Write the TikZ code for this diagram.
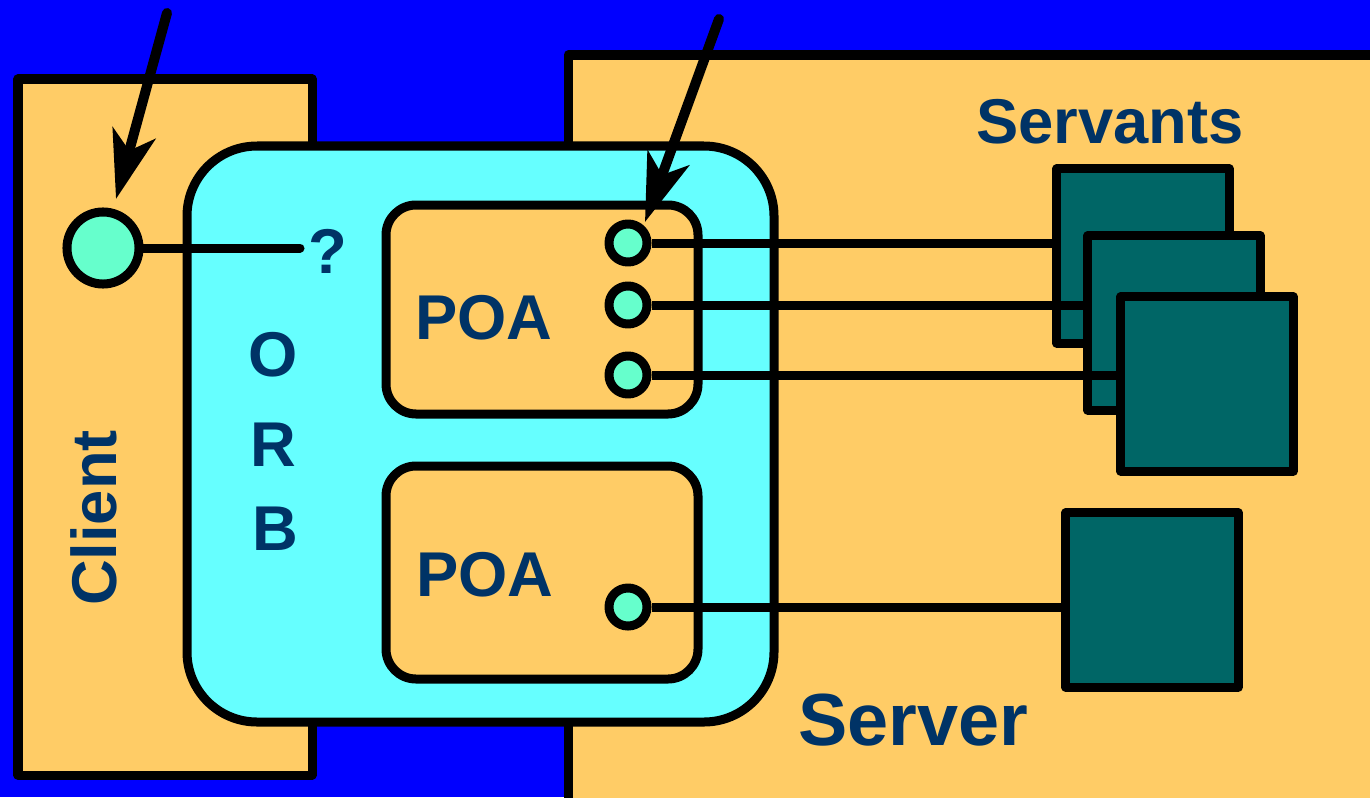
\documentclass[tikz,border=0pt]{standalone}
\usepackage{fontspec}
\setmainfont{Liberation Sans}
\usetikzlibrary{arrows.meta}
\definecolor{bgblue}{HTML}{0000FF}
\definecolor{partorange}{HTML}{FFCC66}
\definecolor{orbcyan}{HTML}{66FFFF}
\definecolor{refgreen}{HTML}{66FFCC}
\definecolor{servteal}{HTML}{006666}
\definecolor{labelnavy}{HTML}{003366}
\begin{document}
\begin{tikzpicture}[x=0.01cm,y=-0.01cm,line width=0.09cm,line join=round,
  >={Stealth[length=0.68cm,width=0.44cm,inset=0.18cm]},
  part/.style={draw,fill=partorange},
  ref/.style={draw,circle,fill=refgreen,inner sep=0pt,minimum size=0.38cm},
  servant/.style={draw,fill=servteal,inner sep=0pt,minimum width=1.72cm,minimum height=1.74cm},
  lbl/.style={text=labelnavy,inner sep=0pt,font=\bfseries\fontsize{18pt}{20pt}\selectfont},
  ptr/.style={->,line cap=round,line width=0.1cm}]
  \useasboundingbox[fill=bgblue](0,0)rectangle(1370,797);
  % client and server processes
  \draw[part](18,79)rectangle(312,775);
  \draw[part](568,55)rectangle(1400,830);
  \node[lbl,rotate=90] (client) at (94,518) {Client};
  \node[lbl,font=\bfseries\fontsize{21pt}{24pt}\selectfont] (server) at (913,720) {Server};
  \node[lbl] (servants) at (1110,122) {Servants};
  % the ORB with two POAs
  \draw[fill=orbcyan,rounded corners=0.7cm](187,146)rectangle(774,722);
  \draw[part,rounded corners=0.3cm](386,205)rectangle(698,414);
  \draw[part,rounded corners=0.3cm](386,466)rectangle(698,679);
  \node[lbl] (orbO) at (273,355) {O};
  \node[lbl] (orbR) at (273,445) {R};
  \node[lbl] (orbB) at (275,529) {B};
  \node[lbl] (poa1) at (484,318) {POA};
  \node[lbl] (poa2) at (485,575) {POA};
  % object references
  \node[ref,minimum size=0.72cm] (cref) at (103,248) {};
  \coordinate (qend) at (300,248);
  \node[lbl] (quest) at (328,251) {?};
  \draw[line cap=round](cref)--(qend);
  \node[ref] (s1) at (628,243) {};
  \node[ref] (s2) at (628,305) {};
  \node[ref] (s3) at (628,375) {};
  \node[ref] (s4) at (628,607) {};
  % servants, stacked
  \node[servant] (v1) at (1143,256) {};
  \draw(s1)--(s1-|v1.west);
  \draw(s2)--(s2-|1092,0);
  \node[servant] (v2) at (1174,323) {};
  \draw(s3)--(s3-|1124,0);
  \node[servant] (v3) at (1207,384) {};
  \node[servant] (v4) at (1152,600) {};
  \draw(s4)--(s4-|v4.west);
  % pointers
  \coordinate (p1) at (167,13);
  \coordinate (t1) at (116,199);
  \coordinate (p2) at (719,19);
  \coordinate (t2) at (645,222);
  \draw[ptr](p1)--(t1);
  \draw[ptr](p2)--(t2);
\end{tikzpicture}
\end{document}
